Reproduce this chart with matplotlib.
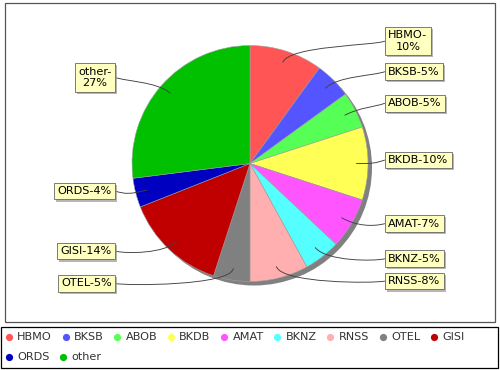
import numpy as np
import matplotlib
matplotlib.use('Agg')
import matplotlib.pyplot as plt
from matplotlib.path import Path
from matplotlib.patches import PathPatch, Rectangle, Circle
from matplotlib.lines import Line2D
from matplotlib.textpath import TextPath
from matplotlib.font_manager import FontProperties
import matplotlib.patheffects as pe

categories = ['HBMO', 'BKSB', 'ABOB', 'BKDB', 'AMAT', 'BKNZ', 'RNSS', 'OTEL', 'GISI', 'ORDS', 'other']
values = [10, 5, 5, 10, 7, 5, 8, 5, 14, 4, 27]
colors = ['#FF5555', '#5555FF', '#55FF55', '#FFFF55', '#FF55FF', '#55FFFF',
          '#FFAFAF', '#808080', '#C00000', '#0000C0', '#00C000']

W, H = 500, 370
fig = plt.figure(figsize=(5, 3.7), dpi=100)
ax = fig.add_axes([0, 0, 1, 1])


def Y(py):
    return H - py


cx, cy = 250, Y(163.5)
R = 118

# shadow
ax.add_patch(Circle((cx + 4, cy - 4), R, facecolor='#808080', edgecolor='none', zorder=0.5))
wedges, _ = ax.pie(values, colors=colors, startangle=90, counterclock=False,
                   center=(cx, cy), radius=R, frame=True,
                   wedgeprops=dict(edgecolor='#a0a0a0', linewidth=0.4))
ax.set_xlim(0, W)
ax.set_ylim(0, H)
ax.set_aspect('auto')
ax.axis('off')

# plot area border and legend box
ax.add_patch(Rectangle((5, Y(322)), 490, 319, fill=False, edgecolor='#555555', lw=0.9, zorder=5))
ax.add_patch(Rectangle((1, Y(368)), 497, 41, fill=False, edgecolor='black', lw=0.9, zorder=5))

# labels
fs = 8.1
prop = FontProperties(family='DejaVu Sans', size=fs)


def text_w_px(s):
    return TextPath((0, 0), s, prop=prop).get_extents().width * 100 / 72


total = float(sum(values))
cum = np.cumsum([0] + values[:-1])
R_link = R * 1.05
gap = 11
label_r = 125
label_cy = Y(160)
pad_px = 0.3 * fs * 100 / 72

for name, v, c0 in zip(categories, values, cum):
    theta = np.deg2rad(90 - 360 * (c0 + v / 2.0) / total)
    ct, st = np.cos(theta), np.sin(theta)
    right = ct >= 0
    ly = label_cy + label_r * st
    lab = f"{name}-{v}%"
    limit = 61 if right else 56
    if text_w_px(lab) > limit:
        lab = f"{name}-\n{v}%"
    link = (cx + 0.9 * R * ct, cy + 0.9 * R * st)
    elbow = (cx + R_link * ct, cy + R_link * st)
    if right:
        anchor = (cx + R_link, elbow[1])
        target = (cx + R_link + gap, ly)
        tx, ha = target[0] + pad_px, 'left'
    else:
        anchor = (cx - R_link, elbow[1])
        target = (cx - R_link - gap, ly)
        tx, ha = target[0] - pad_px, 'right'
    path = Path([target, anchor, elbow, link],
                [Path.MOVETO, Path.CURVE4, Path.CURVE4, Path.CURVE4])
    ax.add_patch(PathPatch(path, facecolor='none', edgecolor='#404040', lw=0.65, zorder=3))
    t = ax.text(tx, ly, lab, ha=ha, va='center', multialignment='center',
                fontsize=fs, family='DejaVu Sans', color='black', zorder=6,
                bbox=dict(boxstyle='square,pad=0.3', facecolor='#FFFFC0',
                          edgecolor='#666666', linewidth=0.6))
    t.get_bbox_patch().set_path_effects([
        pe.SimplePatchShadow(offset=(1.5, -1.5), shadow_rgbFace='#979797', alpha=0.7),
        pe.Normal()])

# legend
handles = [Line2D([], [], linestyle='none', marker='o', markersize=5.2,
                  markerfacecolor=c, markeredgewidth=0) for c in colors]
common = dict(loc='center left', frameon=False, fontsize=8.1, handlelength=0.7,
              handletextpad=0.4, columnspacing=0.85, borderpad=0, borderaxespad=0,
              labelcolor='#333333', numpoints=1)
fig.legend(handles[:9], categories[:9], bbox_to_anchor=(5 / W, 1 - 337.5 / H), ncol=9, **common)
fig.legend(handles[9:], categories[9:], bbox_to_anchor=(5 / W, 1 - 357.5 / H), ncol=2, **common)

fig.savefig('out.png', dpi=100)
